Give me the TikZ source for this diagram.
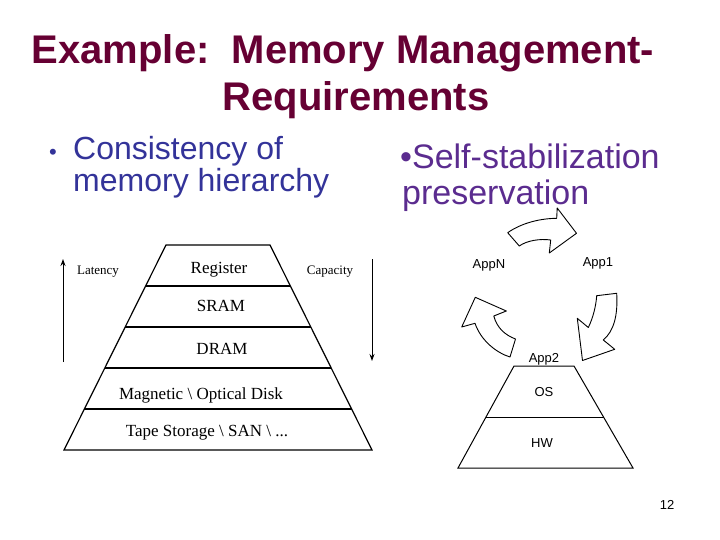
\documentclass[tikz,border=0pt]{standalone}
\usepackage{fontspec}
\setmainfont{Liberation Serif}
\newfontfamily\sansf{Liberation Sans}
\usetikzlibrary{arrows.meta,calc}
\definecolor{titlecol}{HTML}{660033}
\definecolor{leftcol}{HTML}{333399}
\definecolor{rightcol}{HTML}{5B2C8F}
\begin{document}
\begin{tikzpicture}[x=1pt,y=-1pt,
  titletext/.style={inner sep=0pt,anchor=base,text=titlecol,font=\sansf\bfseries\fontsize{40}{48}\selectfont},
  lefttext/.style={inner sep=0pt,anchor=base west,text=leftcol,font=\sansf\fontsize{32}{38}\selectfont},
  righttext/.style={inner sep=0pt,anchor=base west,text=rightcol,font=\sansf\fontsize{34}{40}\selectfont},
  pyr/.style={draw=black,line width=1.2pt,line join=miter},
  ptext/.style={inner sep=0pt,anchor=base,font=\fontsize{17}{20}\selectfont},
  smalltext/.style={inner sep=0pt,anchor=base,font=\fontsize{13}{15}\selectfont},
  apptext/.style={inner sep=0pt,anchor=base,font=\sansf\fontsize{13}{15}\selectfont},
  cyclearrow/.style={draw=black,line width=0.9pt,line join=round,fill=white},
  axisarrow/.style={draw=black,line width=1pt,-{Stealth[length=7pt,width=5pt]}}
]
\useasboundingbox (0,0) rectangle (720,540);

% title
\node[titletext] (title1) at (343,64) {Example:\ \ Memory Management-};
\node[titletext] (title2) at (356,111) {Requirements};

% bullets
\node[inner sep=0pt,anchor=base,text=leftcol,font=\sansf\fontsize{22}{26}\selectfont] (bulletL) at (53,160) {•};
\node[lefttext] (left1) at (73,160) {Consistency of};
\node[lefttext] (left2) at (73,192) {memory hierarchy};
\node[righttext] (right1) at (400,169) {•Self-stabilization};
\node[righttext] (right2) at (402,205) {preservation};

% memory hierarchy pyramid
\coordinate (pTL) at (166,245);
\coordinate (pTR) at (270,245);
\coordinate (pBL) at (64,450);
\coordinate (pBR) at (372,450);
\draw[pyr] (pTL) -- (pTR) -- (pBR) -- (pBL) -- cycle;
\foreach \t in {0.2,0.4,0.6,0.8}
  \draw[pyr] ($(pTL)!\t!(pBL)$) -- ($(pTR)!\t!(pBR)$);

\node[ptext] (reg) at (219,273) {Register};
\node[ptext] (sram) at (221,311.5) {SRAM};
\node[ptext] (dram) at (222,354) {DRAM};
\node[ptext] (disk) at (201,399) {Magnetic \textbackslash\ Optical Disk};
\node[ptext] (tape) at (207,436.5) {Tape Storage \textbackslash\ SAN \textbackslash\ ...};

\node[smalltext] (lat) at (98,274) {Latency};
\node[smalltext] (cap) at (330,274) {Capacity};
\coordinate (latB) at (63,362);
\coordinate (latT) at (63,259);
\coordinate (capT) at (372,259);
\coordinate (capB) at (372,361);
\draw[axisarrow] (latB) -- (latT);
\draw[axisarrow] (capT) -- (capB);

% cycle arrows
\draw[cyclearrow] (507.7,232.7) .. controls (520,224) and (538,218.5) .. (556.7,218.3)
  -- (557.2,208) -- (576.5,233.3) -- (549.3,253) -- (550.7,240)
  .. controls (540,238.5) and (527,240.5) .. (519.3,246) -- cycle;
\draw[cyclearrow] (596.7,295.7) -- (616.7,293.3)
  .. controls (618,315) and (614,331) .. (603.3,340)
  -- (614.7,349.3) -- (582.5,360.5) -- (577.3,318.3) -- (588.3,327.5)
  .. controls (593,318) and (596,306) .. cycle;
\draw[cyclearrow] (475.3,297.3) -- (506.3,311) -- (493.8,316)
  .. controls (497,328) and (505,335) .. (515.5,339)
  -- (510,357) .. controls (497,353) and (481,341) .. (475,323.3)
  -- (461.7,327) -- cycle;

\node[apptext] (appN) at (489,268) {AppN};
\node[apptext] (app1) at (598,266.7) {App1};
\node[apptext] (app2) at (544,362.7) {App2};

% OS / HW pyramid
\coordinate (qTL) at (514,366);
\coordinate (qTR) at (574,366);
\coordinate (qBL) at (458,468);
\coordinate (qBR) at (633,468);
\draw[pyr,line width=1pt] (qTL) -- (qTR) -- (qBR) -- (qBL) -- cycle;
\draw[pyr,line width=1pt] ($(qTL)!0.5!(qBL)$) -- ($(qTR)!0.5!(qBR)$);
\node[apptext] (os) at (544,396.7) {OS};
\node[apptext] (hw) at (542,447.7) {HW};

\node[apptext] (pagenum) at (667,509) {12};
\end{tikzpicture}
\end{document}
